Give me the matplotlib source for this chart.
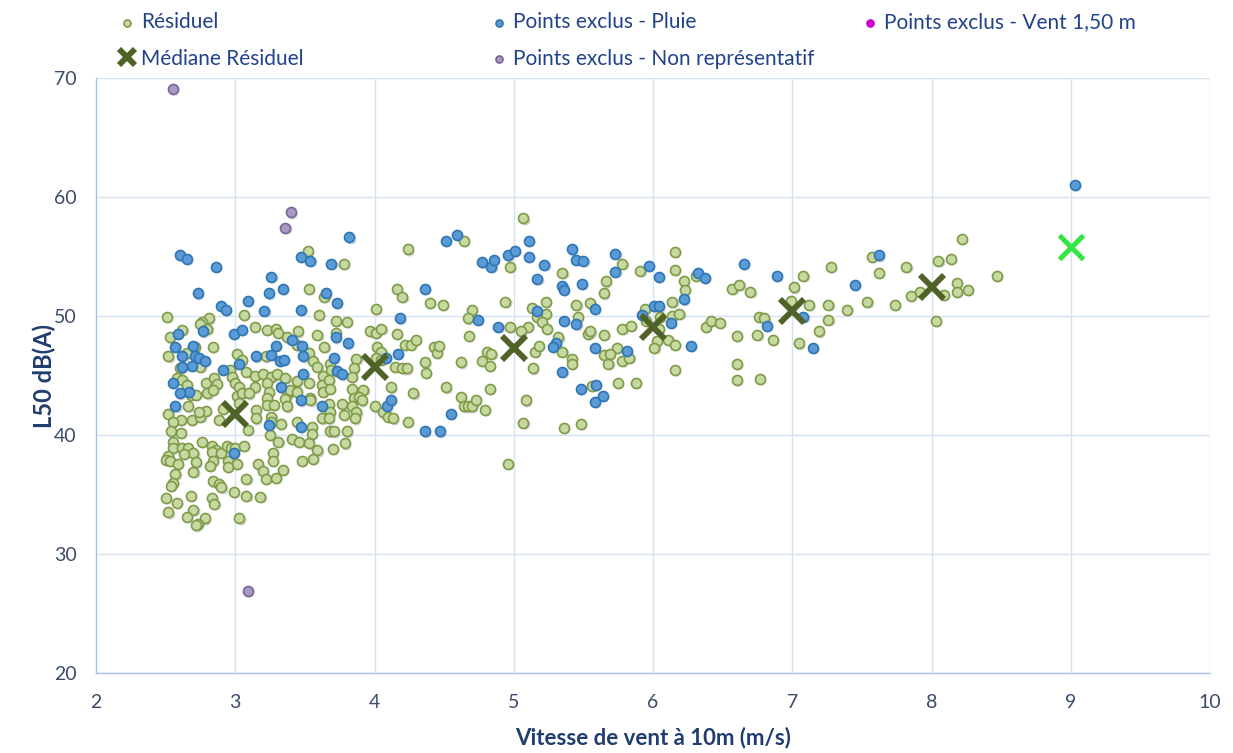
import numpy as np
import matplotlib
matplotlib.use("Agg")
import matplotlib.pyplot as plt
from matplotlib.transforms import offset_copy

plt.rcParams['font.family'] = ['Lato', 'DejaVu Sans']

# Résiduel (vitesse m/s, L50 dB(A))
residuel = np.array([
    (2.51, 49.9), (2.81, 49.8), (2.76, 49.5), (2.75, 49.3), (2.80, 48.9), (2.62, 48.8), (2.53, 48.2),
    (3.06, 50.1), (3.14, 49.1), (3.23, 48.8), (3.29, 48.9), (3.31, 48.6), (2.84, 47.4), (3.44, 47.6),
    (2.52, 46.6), (2.65, 46.9), (2.71, 47.4), (3.01, 46.8), (3.05, 46.3), (3.22, 46.6), (3.37, 48.2),
    (2.60, 45.6), (2.75, 45.7), (2.96, 45.5), (2.98, 44.9), (3.08, 45.3), (3.14, 45.0), (3.20, 45.1),
    (3.26, 44.9), (3.30, 45.1), (3.36, 44.8), (2.58, 44.8), (2.62, 44.6), (2.79, 44.4), (2.85, 44.8),
    (2.87, 44.3), (3.00, 44.4), (3.03, 44.0), (3.14, 44.0), (3.23, 44.4), (2.65, 44.2), (2.68, 43.4),
    (2.72, 43.4), (2.80, 43.5), (2.84, 43.8), (3.01, 43.3), (3.05, 43.5), (3.10, 43.5), (3.24, 43.6),
    (3.38, 43.5), (3.23, 43.1), (3.36, 43.0),
    (2.52, 41.8), (2.61, 41.3), (2.55, 41.1), (2.54, 40.3), (2.61, 40.2), (2.69, 41.3), (2.75, 41.5),
    (2.79, 42.0), (2.74, 41.9), (2.66, 42.4), (2.88, 41.3), (2.91, 42.2), (3.03, 42.7), (3.15, 42.1),
    (3.15, 41.4), (3.09, 40.4), (3.23, 42.5), (3.28, 42.5), (3.26, 41.5), (3.26, 41.1), (3.33, 40.9),
    (3.37, 42.4), (3.25, 40.0), (3.31, 39.4), (2.55, 39.4), (2.55, 38.9), (2.62, 38.9), (2.66, 38.9),
    (2.70, 38.5), (2.63, 38.4), (2.76, 39.4), (2.83, 39.1), (2.86, 38.7), (2.83, 38.6), (2.90, 38.5),
    (2.94, 39.1), (2.97, 38.9), (3.00, 38.9), (3.06, 39.1), (2.52, 38.2), (2.50, 37.9), (2.53, 37.8),
    (2.59, 37.6), (2.72, 37.7), (2.84, 37.8), (2.82, 37.4), (2.95, 37.8), (3.01, 37.6), (2.95, 37.3),
    (3.27, 38.5), (3.27, 37.8), (3.16, 37.6), (3.20, 37.0), (3.22, 36.3), (3.29, 36.4), (3.34, 37.1),
    (2.70, 36.9), (2.57, 36.7), (2.55, 36.0), (2.54, 35.7), (2.84, 36.1), (2.88, 35.9), (2.90, 35.6),
    (2.99, 35.2), (3.08, 36.3), (2.50, 34.7), (2.58, 34.3), (2.68, 34.9), (2.83, 34.7), (2.85, 34.2),
    (3.08, 34.9), (3.18, 34.8), (2.52, 33.5), (2.70, 33.7), (2.65, 33.1), (2.78, 33.0), (2.73, 32.5),
    (2.72, 32.4), (3.03, 33.0),
    (3.52, 55.5), (3.78, 54.4), (4.24, 55.6), (3.53, 52.3), (3.64, 51.6), (3.60, 50.1), (3.72, 49.6),
    (3.80, 49.5), (4.01, 50.6), (4.16, 52.3), (4.20, 51.6), (4.40, 51.1), (3.45, 48.7), (3.59, 48.4),
    (3.72, 48.6), (3.97, 48.7), (4.01, 48.6), (4.05, 48.9), (4.16, 48.5), (3.64, 47.4), (4.02, 47.4),
    (4.05, 47.0), (4.22, 47.6), (4.26, 47.6), (4.30, 48.0), (4.43, 47.4), (4.45, 46.9), (3.53, 46.9),
    (3.56, 46.2), (3.59, 45.7), (3.68, 46.0), (3.69, 45.5), (3.87, 46.4), (3.85, 45.6), (3.84, 44.9),
    (3.63, 45.0), (3.53, 44.4), (3.92, 43.8), (4.01, 46.5), (4.05, 46.3), (4.15, 45.7), (4.20, 45.6),
    (4.23, 45.6), (4.36, 46.1), (4.37, 45.2), (3.44, 44.5), (3.39, 43.8), (3.44, 43.6), (3.62, 44.2),
    (3.67, 44.6), (3.63, 43.6), (3.68, 43.9), (3.84, 43.9), (3.85, 43.1), (3.89, 43.2), (3.54, 43.1),
    (4.12, 44.0), (4.28, 43.5),
    (3.54, 42.9), (3.67, 42.6), (3.77, 42.6), (3.84, 42.4), (3.91, 42.9), (4.00, 42.4), (3.68, 41.9),
    (3.87, 41.9), (3.62, 41.4), (3.67, 41.4), (3.78, 41.7), (3.86, 41.4), (4.06, 41.9), (4.10, 41.5),
    (4.13, 41.4), (4.24, 41.1), (3.44, 41.1), (3.55, 40.7), (3.55, 40.1), (3.41, 39.7), (3.46, 39.4),
    (3.53, 39.3), (3.68, 40.3), (3.71, 40.3), (3.80, 40.3), (3.79, 39.3), (3.59, 38.7), (3.70, 38.8),
    (3.48, 37.8), (3.56, 38.0),
    (5.07, 58.2), (4.64, 56.3), (4.97, 54.1), (5.35, 53.6), (4.49, 50.9), (4.70, 50.5), (4.67, 49.8),
    (4.94, 51.2), (5.13, 50.7), (5.23, 51.2), (5.23, 50.2), (5.17, 49.9), (5.20, 49.5), (5.24, 48.9),
    (5.45, 50.9), (5.46, 49.9), (4.97, 49.1), (5.10, 49.1), (5.05, 48.7), (4.68, 48.3), (5.32, 48.2),
    (5.53, 48.5), (4.46, 47.5), (4.81, 47.0), (4.84, 46.8), (4.77, 46.2), (4.83, 45.8), (4.62, 46.1),
    (5.14, 45.6), (5.15, 47.0), (5.18, 47.5), (5.35, 47.0), (5.42, 46.4), (5.42, 46.0), (4.51, 44.0),
    (4.83, 43.9), (4.62, 43.2), (4.64, 42.4), (4.67, 42.4), (4.70, 42.4), (4.73, 42.9), (4.79, 42.1),
    (5.09, 42.9), (5.07, 41.0), (5.36, 40.6), (5.48, 40.9), (4.96, 37.6),
    (6.16, 55.4), (5.78, 54.4), (5.91, 53.8), (6.16, 53.9), (5.66, 52.9), (5.65, 51.9), (6.22, 52.9),
    (6.23, 52.2), (6.31, 53.4), (6.57, 52.3), (6.62, 52.6), (5.55, 51.1), (6.14, 51.2), (5.94, 50.6),
    (5.95, 49.6), (6.05, 49.9), (6.14, 50.0), (6.19, 50.2), (6.04, 48.9), (6.11, 48.0), (6.16, 47.6),
    (6.03, 47.9), (6.01, 47.3), (5.78, 48.9), (5.84, 49.2), (5.55, 48.7), (5.65, 48.4), (5.74, 47.3),
    (5.65, 46.7), (5.68, 46.0), (5.69, 46.8), (5.78, 46.2), (5.83, 46.5), (6.38, 49.1), (6.42, 49.6),
    (6.48, 49.4), (6.60, 48.3), (6.60, 46.0), (6.60, 44.6), (6.16, 45.5), (5.75, 44.4), (5.88, 44.4),
    (5.56, 44.1),
    (7.57, 55.0), (7.28, 54.1), (7.08, 53.4), (7.62, 53.6), (6.70, 52.0), (7.01, 52.4), (6.99, 51.3),
    (7.12, 50.9), (7.26, 50.9), (7.39, 50.5), (7.54, 51.2), (6.76, 49.9), (6.80, 49.8), (7.26, 49.7),
    (7.19, 48.7), (6.75, 48.4), (6.86, 48.0), (7.05, 47.7), (6.77, 44.7),
    (8.22, 56.5), (8.05, 54.6), (8.14, 54.8), (7.82, 54.1), (8.47, 53.4), (8.18, 52.8), (8.26, 52.2),
    (8.18, 52.0), (8.09, 51.8), (7.92, 52.0), (7.85, 51.7), (7.74, 50.9), (8.03, 49.6),
])

# Points exclus - Pluie
pluie = np.array([
    (2.60, 55.1), (2.65, 54.8), (2.86, 54.1), (2.73, 51.9), (2.90, 50.8), (2.93, 50.5), (3.09, 51.3),
    (3.26, 53.3), (3.24, 51.9), (3.34, 52.3), (3.21, 50.4), (2.77, 48.7), (2.59, 48.5), (2.99, 48.5),
    (3.05, 48.8), (2.57, 47.4), (2.70, 47.5), (3.29, 47.5), (2.62, 46.6), (2.71, 46.6), (2.74, 46.5),
    (2.78, 46.2), (3.15, 46.6), (3.26, 46.7), (3.32, 46.2), (3.35, 46.3), (2.69, 45.8), (2.62, 45.7),
    (3.03, 46.0), (2.91, 45.5), (2.55, 44.4), (2.67, 43.6), (2.60, 43.5), (3.33, 44.0), (2.57, 42.4),
    (3.24, 40.8), (2.99, 38.5),
    (3.82, 56.6), (3.47, 55.0), (3.54, 54.6), (3.69, 54.4), (3.65, 51.9), (3.73, 51.1), (3.47, 50.5),
    (4.18, 49.8), (4.36, 52.3), (3.72, 48.2), (3.81, 47.7), (3.48, 47.5), (3.41, 48.0), (3.49, 46.6),
    (3.71, 46.5), (4.08, 46.5), (4.17, 46.8), (3.73, 45.4), (3.77, 45.1), (3.49, 45.1), (3.47, 42.9),
    (3.62, 42.4), (4.09, 42.4), (4.12, 42.9), (3.47, 40.7), (4.36, 40.3), (4.47, 40.3),
    (4.51, 56.3), (4.59, 56.8), (4.77, 54.5), (4.84, 54.1), (4.86, 54.7), (4.96, 55.1), (5.01, 55.5),
    (5.11, 56.3), (5.11, 55.0), (5.22, 54.3), (5.17, 53.1), (5.42, 55.6), (5.45, 54.7), (5.50, 54.6),
    (5.35, 52.5), (5.36, 52.2), (5.49, 52.7), (5.17, 50.4), (4.74, 49.7), (4.89, 49.1), (5.36, 49.6),
    (5.45, 49.3), (5.30, 47.7), (5.28, 47.4), (5.35, 45.3), (5.48, 43.9), (4.55, 41.8),
    (5.73, 55.2), (5.97, 54.2), (5.73, 53.7), (6.04, 53.3), (6.32, 53.6), (6.37, 53.2), (6.22, 51.4),
    (5.58, 50.6), (6.01, 50.8), (6.04, 50.8), (5.92, 50.1), (6.13, 49.4), (5.58, 47.3), (5.81, 47.1),
    (6.27, 47.5), (5.59, 44.2), (5.64, 43.3), (5.58, 42.8),
    (6.65, 54.4), (6.89, 53.4), (7.62, 55.1), (7.45, 52.6), (7.08, 49.9), (6.82, 49.2), (7.15, 47.3),
    (9.03, 61.0),
])

# Points exclus - Non représentatif
non_repr = np.array([(2.55, 69.1), (3.40, 58.7), (3.36, 57.4), (3.09, 26.9)])

# Médiane Résiduel par classe de vitesse
med_x = [3, 4, 5, 6, 7, 8]
med_y = [41.8, 45.7, 47.3, 49.1, 50.4, 52.4]
med9_x = [9]
med9_y = [55.8]

fig = plt.figure(figsize=(12.33, 7.53), dpi=100)
ax = fig.add_axes([96 / 1233, 80 / 753, 1114 / 1233, 595 / 753])

grid_c = '#d5e2f2'
ax.set_xlim(2, 10)
ax.set_ylim(20, 70)
ax.set_xticks(range(2, 11))
ax.set_yticks(range(20, 71, 10))
ax.grid(True, color=grid_c, lw=1.0)
ax.set_axisbelow(True)
for s in ['top', 'right']:
    ax.spines[s].set_visible(False)
for s in ['left', 'bottom']:
    ax.spines[s].set_color('#a9c4e6')
    ax.spines[s].set_linewidth(1.0)
ax.tick_params(length=0, labelsize=14, labelcolor='#3c4a6c')
ax.tick_params(axis='x', pad=15)
ax.tick_params(axis='y', pad=14)

# ombre légère sous les points
shadow = offset_copy(ax.transData, fig=fig, x=1.2, y=-1.2, units='dots')
for pts in (residuel, pluie, non_repr):
    ax.scatter(pts[:, 0], pts[:, 1], s=52, color='#7f7f7f', alpha=0.35, lw=0,
               transform=shadow, zorder=2)

h_res = ax.scatter(residuel[:, 0], residuel[:, 1], s=52, facecolor='#c6d9a0',
                   edgecolor='#7f9a48', lw=1.2, zorder=3, label='Résiduel')
h_pl = ax.scatter(pluie[:, 0], pluie[:, 1], s=52, facecolor='#5b9bd5',
                  edgecolor='#2e75b6', lw=1.2, zorder=3, label='Points exclus - Pluie')
h_nr = ax.scatter(non_repr[:, 0], non_repr[:, 1], s=52, facecolor='#a898c4',
                  edgecolor='#7a6498', lw=1.2, zorder=3, label='Points exclus - Non représentatif')
h_vent = ax.scatter([], [], s=52, facecolor='#cc00cc', edgecolor='#cc00cc', lw=1.2,
                    label='Points exclus - Vent 1,50 m')
h_med, = ax.plot(med_x, med_y, ls='none', marker='x', ms=17, mew=4.2, color='#4f6228',
                 zorder=4, label='Médiane Résiduel')
ax.plot(med9_x, med9_y, ls='none', marker='x', ms=17, mew=3.6, color='#33e645', zorder=4)

ax.set_xlabel('Vitesse de vent à 10m (m/s)', fontsize=16, fontweight='bold', color='#1f3d6e')
ax.set_ylabel('L50 dB(A)', fontsize=17, fontweight='bold', color='#1f3d6e')
ax.xaxis.set_label_coords(0.5, -0.091)
ax.yaxis.set_label_coords(-0.036, 0.5)

leg_kw = dict(frameon=False, fontsize=15, labelcolor='#22428c', handletextpad=0.2,
              markerscale=0.7, labelspacing=0.78, handlelength=1.0, borderaxespad=0)
cols = [([h_res, h_med], 108), ([h_pl, h_nr], 480), ([h_vent], 851)]
for handles, xpix in cols:
    fig.legend(handles=handles, labels=[h.get_label() for h in handles], loc='upper left',
               bbox_to_anchor=(xpix / 1233, 1 - 4 / 753), **leg_kw)

fig.savefig('out.png', dpi=100)
